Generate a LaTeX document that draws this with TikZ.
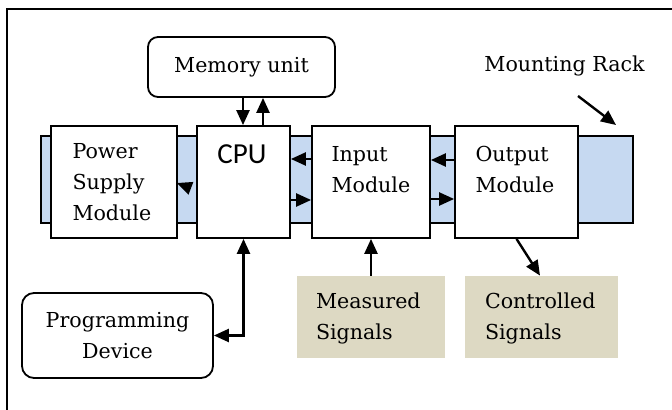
\documentclass[tikz,border=0pt]{standalone}
\usepackage{fontspec}
\setmainfont{DejaVu Serif}
\newfontfamily\cpufont{Carlito}
\usepackage{xcolor}
\usetikzlibrary{positioning,calc,arrows.meta}
\definecolor{rackblue}{HTML}{C6D9F1}
\definecolor{signaltan}{HTML}{DDD9C3}

\begin{document}
\begin{tikzpicture}[x=0.5pt, y=-0.5pt,
        ModuleStyle/.style = { draw, line width=0.9pt, fill=white,
          minimum height=56pt, inner sep=0pt },
        BoxStyle/.style = { draw, line width=0.9pt, rounded corners=5pt,
          align=center, inner sep=0pt,
          font=\fontsize{10.3}{15.5}\selectfont },
        SignalStyle/.style = { fill=signaltan, minimum height=41pt,
          inner sep=0pt },
        TextStyle/.style = { anchor=north west, inner sep=0pt, align=left,
          font=\fontsize{10.3}{15.5}\selectfont },
        ArrowStyle/.style = { -{Triangle[length=7.5pt,width=6.5pt]},
          line width=1.2pt },
        BothStyle/.style = { {Triangle[length=7.5pt,width=6.5pt]}-{Triangle[length=7.5pt,width=6.5pt]},
          line width=1.2pt }
      ]
      \useasboundingbox (0,0) rectangle (672,410);
      \draw[line width=1.1pt] (7,430) |- (690,9);

      \node[draw, line width=0.9pt, fill=rackblue, inner sep=0pt,
        minimum width=296pt, minimum height=43.5pt] (rack) at (337,179.5) {};

      \node[ModuleStyle, minimum width=63pt] (psu) at (114,182) {};
      \node[ModuleStyle, minimum width=46.5pt] (cpu) at (243.5,182) {};
      \node[ModuleStyle, minimum width=59pt] (inp) at (371,182) {};
      \node[ModuleStyle, minimum width=61.5pt] (out) at (516.5,182) {};

      \node[TextStyle] (psutext) at ($(psu.north west)+(22,18)$) {Power\\Supply\\Module};
      \node[anchor=north, inner sep=0pt, font=\cpufont\fontsize{14.5}{17}\selectfont]
        (cputext) at ($(cpu.north)+(-1.5,19)$) {CPU};
      \node[TextStyle] (inptext) at ($(inp.north west)+(20,21)$) {Input\\Module};
      \node[TextStyle] (outtext) at ($(out.north west)+(21,21)$) {Output\\Module};

      \node[BoxStyle, minimum width=93.5pt, minimum height=30pt] (mem) at (241.5,67) {Memory unit};
      \node[BoxStyle, rounded corners=6pt, minimum width=95.5pt, minimum height=42.5pt]
        (prog) at (117.5,335.5) {Programming\\Device};

      \node[SignalStyle, minimum width=74pt] (meas) at (371,317) {};
      \node[SignalStyle, minimum width=76.5pt] (ctrl) at (541.5,317) {};
      \node[TextStyle] (meastext) at ($(meas.north west)+(19,17)$) {Measured\\Signals};
      \node[TextStyle] (ctrltext) at ($(ctrl.north west)+(20,17)$) {Controlled\\Signals};

      \node[TextStyle] (racktext) at (484,55) {Mounting Rack};
      \coordinate (racktail) at (578,96);
      \coordinate (racktip) at (616,125);
      \coordinate (psutail) at (190,188);

      \draw[ArrowStyle] ($(mem.south)+(1.5,0)$) -- ($(cpu.north)+(-0.5,0)$);
      \draw[ArrowStyle] ($(cpu.north)+(19.5,0)$) -- ($(mem.south)+(21.5,0)$);
      \draw[ArrowStyle] (psutail) -- ($(psu.east)+(-1,1)$);
      \draw[ArrowStyle] ($(inp.west)+(0,-23)$) -- ($(cpu.east)+(0,-23)$);
      \draw[ArrowStyle] ($(cpu.east)+(0,18)$) -- ($(inp.west)+(0,18)$);
      \draw[ArrowStyle] ($(out.west)+(0,-22)$) -- ($(inp.east)+(0,-22)$);
      \draw[ArrowStyle] ($(inp.east)+(0,17)$) -- ($(out.west)+(0,17)$);
      \draw[ArrowStyle] (meas.north) -- (inp.south);
      \draw[ArrowStyle] (out.south) -- ($(ctrl.north)+(-1.5,0)$);
      \draw[BothStyle] (cpu.south) |- (prog.east);
      \draw[ArrowStyle] (racktail) -- (racktip);
    \end{tikzpicture}
\end{document}
